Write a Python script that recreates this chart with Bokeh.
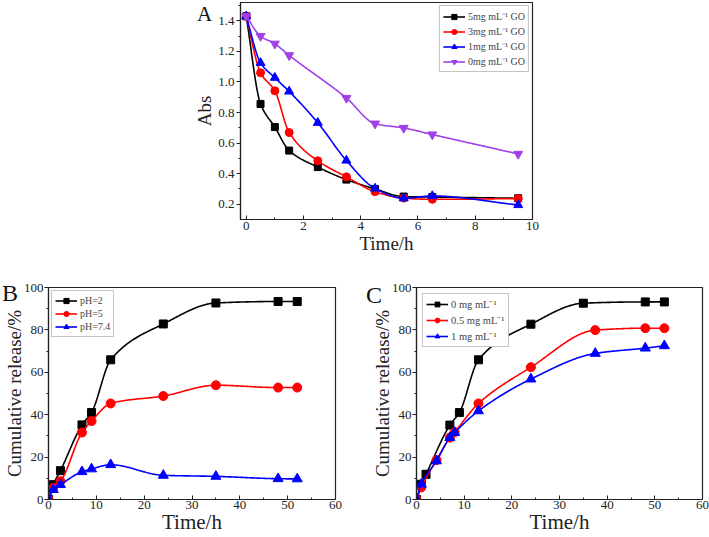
import numpy as np
from bokeh.plotting import figure
from bokeh.layouts import column, row
from bokeh.models import FixedTicker, Range1d, CustomJSTickFormatter, Div
from bokeh.embed import file_html
from bokeh.resources import INLINE

# ---------------- data ----------------
# Panel A: absorbance vs time
a_time = [0, 0.5, 1, 1.5, 2.5, 3.5, 4.5, 5.5, 6.5, 9.5]
a_go5 = [1.43, 0.856, 0.705, 0.551, 0.443, 0.361, 0.30, 0.25, 0.247, 0.239]
a_go3 = [1.43, 1.06, 0.942, 0.669, 0.484, 0.379, 0.282, 0.24, 0.232, 0.237]
a_go1 = [1.43, 1.125, 1.028, 0.938, 0.733, 0.486, 0.303, 0.239, 0.254, 0.195]
a_go0_time = [0, 0.5, 1, 1.5, 3.5, 4.5, 5.5, 6.5, 9.5]
a_go0 = [1.43, 1.30, 1.25, 1.174, 0.895, 0.727, 0.699, 0.656, 0.529]
a_labels = ["5mg mL\u207b\u00b9 GO", "3mg mL\u207b\u00b9 GO", "1mg mL\u207b\u00b9 GO", "0mg mL\u207b\u00b9 GO"]

# Panel B: cumulative release at different pH
b_time = [0, 1, 2.5, 7, 9, 13, 24, 35, 48, 52]
b_ph2 = [0, 7.0, 13.6, 35.2, 41.0, 65.9, 82.8, 92.7, 93.4, 93.4]
b_ph5 = [0, 5.5, 8.6, 31.6, 37.0, 45.3, 48.8, 53.9, 52.8, 52.8]
b_ph74 = [0, 4.7, 7.0, 13.1, 14.4, 16.4, 11.4, 10.9, 9.8, 9.7]
b_labels = ["pH=2", "pH=5", "pH=7.4"]

# Panel C: cumulative release at different GO concentrations
c_time0 = [0, 1, 2, 7, 9, 13, 24, 35, 48, 52]
c_go0 = [0, 7.2, 11.9, 35.1, 41.0, 65.9, 82.7, 92.6, 93.2, 93.2]
c_time = [0, 1, 4.2, 7, 8, 13, 24, 37.5, 48, 52]
c_go05 = [0, 5.7, 18.6, 29.2, 31.8, 45.3, 62.4, 79.9, 80.8, 80.8]
c_go1 = [0, 7.2, 18.2, 29.2, 31.6, 41.8, 56.8, 68.9, 71.4, 72.5]
c_labels = ["0 mg mL\u207b\u00b9", "0.5 mg mL\u207b\u00b9", "1 mg mL\u207b\u00b9"]

panel_letters = ["A", "B", "C"]

FONT = "Liberation Serif"
INK = "#222222"
BLACK, RED, BLUE, PURPLE = "#000000", "#FF0000", "#0000FF", "#A040E8"


def pchip(x, y, n=300):
    x = np.asarray(x, float)
    y = np.asarray(y, float)
    h = np.diff(x)
    d = np.diff(y) / h
    m = np.zeros_like(y)
    m[0], m[-1] = d[0], d[-1]
    for k in range(1, len(x) - 1):
        if d[k - 1] * d[k] <= 0:
            m[k] = 0.0
        else:
            w1 = 2 * h[k] + h[k - 1]
            w2 = h[k] + 2 * h[k - 1]
            m[k] = (w1 + w2) / (w1 / d[k - 1] + w2 / d[k])
    xs = np.linspace(x[0], x[-1], n)
    idx = np.clip(np.searchsorted(x, xs) - 1, 0, len(x) - 2)
    t = (xs - x[idx]) / h[idx]
    h00 = 2 * t**3 - 3 * t**2 + 1
    h10 = t**3 - 2 * t**2 + t
    h01 = -2 * t**3 + 3 * t**2
    h11 = t**3 - t**2
    ys = h00 * y[idx] + h10 * h[idx] * m[idx] + h01 * y[idx + 1] + h11 * h[idx] * m[idx + 1]
    return xs, ys


def style(p, xt, xminor, yt, yminor, tick_size, xlabel_size, ylabel_size,
          x_lab_so, x_axlab_so, y_lab_so, y_axlab_so):
    p.xgrid.visible = False
    p.ygrid.visible = False
    p.outline_line_color = INK
    p.outline_line_width = 1.2
    p.xaxis.ticker = FixedTicker(ticks=xt, minor_ticks=xminor)
    p.yaxis.ticker = FixedTicker(ticks=yt, minor_ticks=yminor)
    for ax in (p.xaxis[0], p.yaxis[0]):
        ax.axis_line_color = INK
        ax.axis_line_width = 1.2
        ax.major_tick_line_color = INK
        ax.minor_tick_line_color = INK
        ax.major_label_text_font = FONT
        ax.major_label_text_font_size = f"{tick_size}px"
        ax.major_label_text_color = INK
        ax.axis_label_text_font = FONT
        ax.axis_label_text_font_style = "normal"
        ax.axis_label_text_color = INK
    xa, ya = p.xaxis[0], p.yaxis[0]
    xa.axis_label_text_font_size = f"{xlabel_size}px"
    ya.axis_label_text_font_size = f"{ylabel_size}px"
    xa.major_tick_in, xa.major_tick_out = 4, 0
    xa.minor_tick_in, xa.minor_tick_out = 2, 0
    ya.major_tick_in, ya.major_tick_out = 0, 4
    ya.minor_tick_in, ya.minor_tick_out = 0, 2
    xa.major_label_standoff = x_lab_so
    xa.axis_label_standoff = x_axlab_so
    ya.major_label_standoff = y_lab_so
    ya.axis_label_standoff = y_axlab_so


def legend_style(p, loc, margin, size, lh, spacing, glyph_w):
    lg = p.legend[0]
    lg.location = loc
    lg.margin = margin
    lg.label_text_font = FONT
    lg.label_text_font_size = f"{size}px"
    lg.border_line_color = "#888888"
    lg.border_line_width = 1
    lg.background_fill_alpha = 1
    lg.padding = 3
    lg.spacing = spacing
    lg.glyph_width = glyph_w
    lg.glyph_height = lh
    lg.label_height = lh
    lg.label_standoff = 3


def series(p, x, y, color, marker, label, size):
    xs, ys = pchip(x, y)
    p.line(xs, ys, line_color=color, line_width=1.6, legend_label=label)
    p.scatter(x, y, marker=marker, size=size, fill_color=color, line_color=color, legend_label=label)


def letter(text, left, top, size):
    return Div(text=text, styles={
        "position": "absolute", "left": f"{left}px", "top": f"{top}px",
        "font-family": FONT, "font-size": f"{size}px", "line-height": "1",
        "color": "#111111", "margin": "0", "padding": "0", "z-index": "10",
    })


# ---------------- Panel A ----------------
pa = figure(width=709, height=266, output_backend="svg", toolbar_location=None,
            x_range=Range1d(-0.2, 10), y_range=Range1d(0.1, 1.52),
            min_border_left=240, min_border_right=177, min_border_top=2, min_border_bottom=47)
series(pa, a_time, a_go5, BLACK, "square", a_labels[0], 7)
series(pa, a_time, a_go3, RED, "circle", a_labels[1], 8)
series(pa, a_time, a_go1, BLUE, "triangle", a_labels[2], 9)
series(pa, a_go0_time, a_go0, PURPLE, "inverted_triangle", a_labels[3], 9)
style(pa, [0, 2, 4, 6, 8, 10], [1, 3, 5, 7, 9],
      [0.2, 0.4, 0.6, 0.8, 1.0, 1.2, 1.4], [0.3, 0.5, 0.7, 0.9, 1.1, 1.3, 1.5],
      13, 19, 19, 2, 0, 2, 0)
pa.xaxis.axis_label = "Time/h"
pa.yaxis.axis_label = "Abs"
pa.yaxis.formatter = CustomJSTickFormatter(code="return tick.toFixed(1)")
legend_style(pa, "top_right", 3, 10, 13, 1, 22)

# ---------------- Panel B ----------------
pb = figure(width=355, height=271, output_backend="svg", toolbar_location=None,
            x_range=Range1d(0, 60), y_range=Range1d(0, 100),
            min_border_left=48, min_border_right=20, min_border_top=21, min_border_bottom=37)
series(pb, b_time, b_ph2, BLACK, "square", b_labels[0], 8)
series(pb, b_time, b_ph5, RED, "circle", b_labels[1], 9)
series(pb, b_time, b_ph74, BLUE, "triangle", b_labels[2], 10)
style(pb, [0, 10, 20, 30, 40, 50, 60], [5, 15, 25, 35, 45, 55],
      [0, 20, 40, 60, 80, 100], [10, 30, 50, 70, 90],
      13, 21, 19, 1, -2, 1, -4)
pb.xaxis.axis_label = "Time/h"
pb.yaxis.axis_label = "Cumulative release/%"
legend_style(pb, "top_left", 3, 10, 13, 0, 22)

# ---------------- Panel C ----------------
pc = figure(width=354, height=271, output_backend="svg", toolbar_location=None,
            x_range=Range1d(0, 60), y_range=Range1d(0, 100),
            min_border_left=61, min_border_right=7, min_border_top=21, min_border_bottom=38)
series(pc, c_time0, c_go0, BLACK, "square", c_labels[0], 8)
series(pc, c_time, c_go05, RED, "circle", c_labels[1], 9)
series(pc, c_time, c_go1, BLUE, "triangle", c_labels[2], 10)
style(pc, [0, 10, 20, 30, 40, 50, 60], [5, 15, 25, 35, 45, 55],
      [0, 20, 40, 60, 80, 100], [10, 30, 50, 70, 90],
      13, 21, 19, 1, -2, 1, -4)
pc.xaxis.axis_label = "Time/h"
pc.yaxis.axis_label = "Cumulative release/%"
legend_style(pc, "top_left", 6, 10.5, 12, 2, 22)

layout = column(pa, row(pb, pc),
                letter(panel_letters[0], 197, 4, 21),
                letter(panel_letters[1], 2, 281, 24),
                letter(panel_letters[2], 366, 283, 24))

with open("out.html", "w") as f:
    f.write(file_html(layout, INLINE))
